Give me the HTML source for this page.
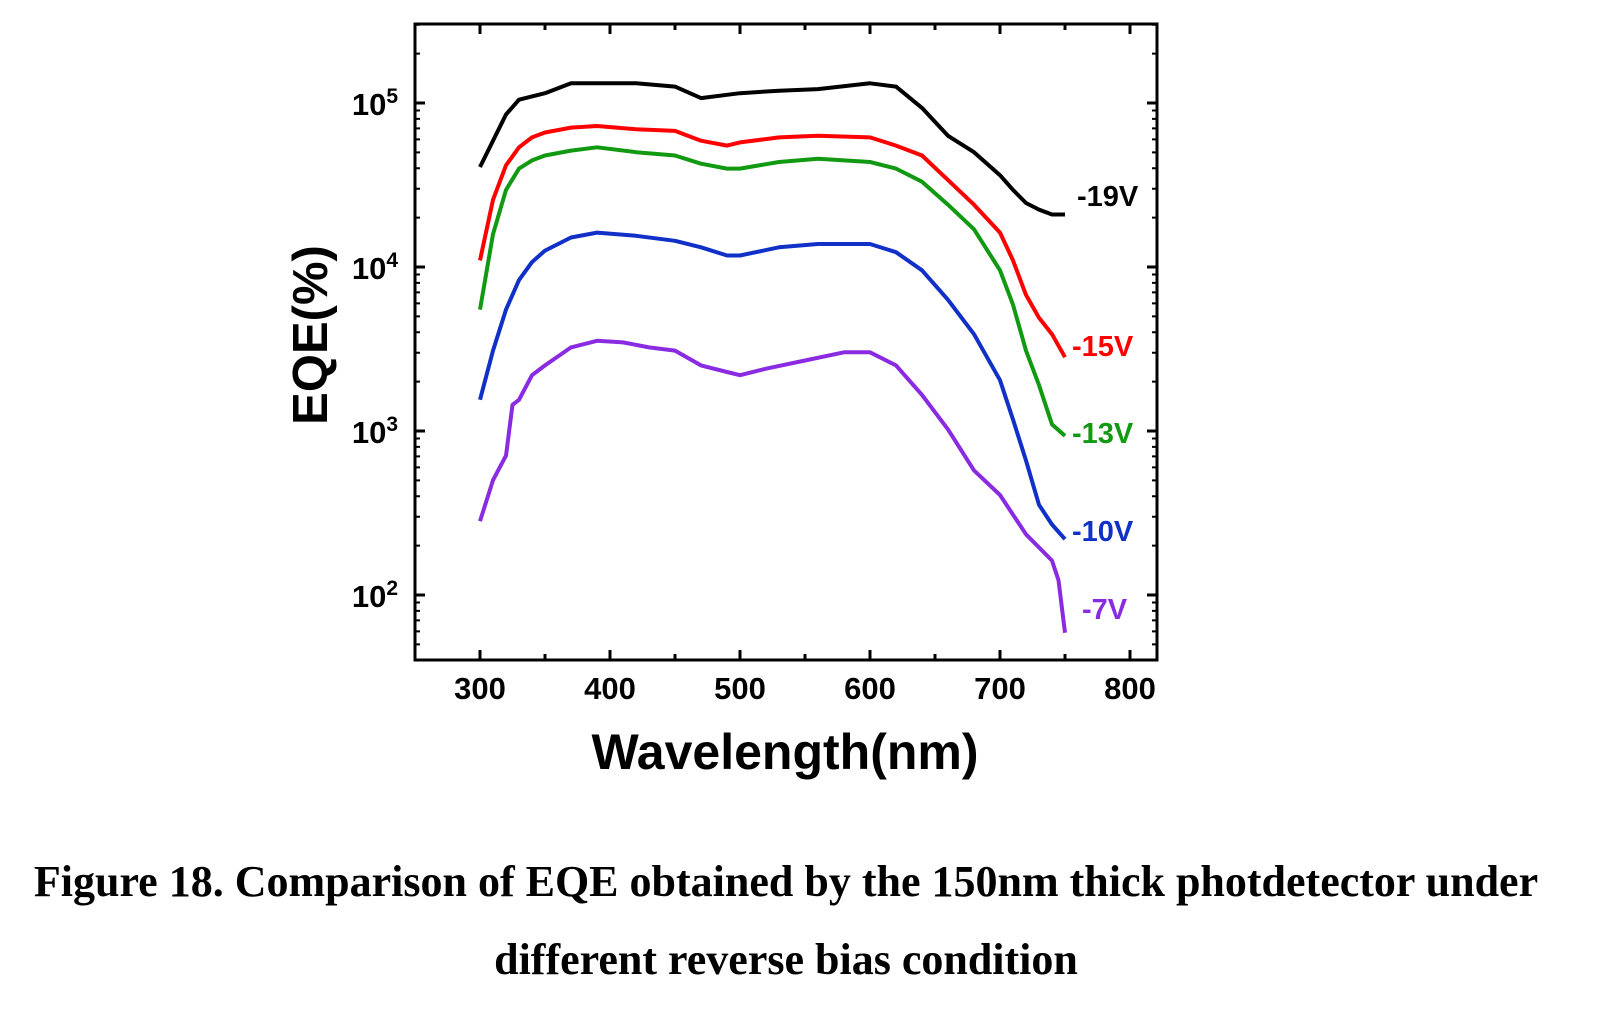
<!DOCTYPE html>
<html><head><meta charset="utf-8"><style>
html,body{margin:0;padding:0;background:#fff;}
body{width:1600px;height:1019px;position:relative;overflow:hidden;}
.cap{position:absolute;left:0;width:1572px;text-align:center;font-family:"Liberation Serif",serif;font-weight:bold;font-size:44px;line-height:44px;color:#000;white-space:nowrap;}
</style></head><body>
<svg id="chart" width="1600" height="840" style="position:absolute;left:0;top:0" font-family="Liberation Sans, sans-serif" font-weight="bold"></svg>
<div class="cap" style="top:860px">Figure 18. Comparison of EQE obtained by the 150nm thick photdetector under</div>
<div class="cap" style="top:938px">different reverse bias condition</div>
<script>
const wl = [300,310,320,330,340,350,370,390,420,450,470,490,500,530,560,600,620,640,660,680,700,710,720,730,740,750];
const v19 = [4.61,4.77,4.93,5.02,5.04,5.06,5.12,5.12,5.12,5.10,5.03,5.05,5.06,5.075,5.085,5.12,5.10,4.97,4.80,4.70,4.56,4.47,4.39,4.35,4.32,4.32];
const v15 = [4.04,4.41,4.62,4.73,4.79,4.82,4.85,4.86,4.84,4.83,4.77,4.74,4.76,4.79,4.80,4.79,4.74,4.68,4.53,4.38,4.21,4.04,3.83,3.69,3.59,3.45];
const v13 = [3.74,4.20,4.47,4.60,4.65,4.68,4.71,4.73,4.70,4.68,4.63,4.60,4.60,4.64,4.66,4.64,4.60,4.52,4.38,4.23,3.98,3.77,3.49,3.28,3.04,2.97];
const v10 = [3.19,3.49,3.74,3.92,4.03,4.10,4.18,4.21,4.19,4.16,4.12,4.07,4.07,4.12,4.14,4.14,4.09,3.98,3.80,3.59,3.31,3.07,2.82,2.55,2.43,2.34];
const v7wl = [300,310,320,325,330,340,350,370,390,410,430,450,470,490,500,520,550,580,600,620,640,660,680,700,720,740,745,750];
const v7 = [2.45,2.70,2.85,3.16,3.19,3.34,3.40,3.51,3.55,3.54,3.51,3.49,3.40,3.36,3.34,3.38,3.43,3.48,3.48,3.40,3.22,3.01,2.76,2.61,2.37,2.21,2.09,1.77];
const xTicks = [300,400,500,600,700,800];
const yDecades = [2,3,4,5];
const labels = ["-19V","-15V","-13V","-10V","-7V"];

const L=415,R=1157,T=24,B=660;
const X = w => 480 + (w-300)*1.3;
const Y = lg => 103 + (5-lg)*164;
const NS="http://www.w3.org/2000/svg";
const svg=document.getElementById('chart');
function mk(tag,attrs,parent){const e=document.createElementNS(NS,tag);for(const k in attrs)e.setAttribute(k,attrs[k]);(parent||svg).appendChild(e);return e;}

const frame=mk('rect',{x:L,y:T,width:R-L,height:B-T,fill:'none',stroke:'#000','stroke-width':3});



xTicks.forEach(t=>{
  const x=X(t);
  const tk=mk('path',{d:`M${x},${B}v-10M${x},${T}v10`,stroke:'#000','stroke-width':3});
  
  
  const lb=mk('text',{x:x,y:699,'text-anchor':'middle','font-size':31});
  lb.textContent=t;
  
  
});
[350,450,550,650,750].forEach(t=>{
  const x=X(t);
  const tk=mk('path',{d:`M${x},${B}v-6M${x},${T}v6`,stroke:'#000','stroke-width':3});
  
  
});
for(let d=1;d<=5;d++){
  for(let m=1;m<=9;m++){
    const lg=d+Math.log10(m);
    const y=Y(lg);
    if(y<T||y>B) continue;
    const len=m===1?10:5;
    const tk=mk('path',{d:`M${L},${y}h${len}M${R},${y}h${-len}`,stroke:'#000','stroke-width':m===1?3:2});
    
    
  }
}
yDecades.forEach(d=>{
  const y=Y(d);
  const lb=mk('text',{x:398,y:y+12,'text-anchor':'end','font-size':31});
  
  
  const t1=mk('tspan',{},lb);t1.textContent='10';
  const t2=mk('tspan',{dy:-12,'font-size':21},lb);t2.textContent=d;
});

const series=[[wl,v19,'#000000'],[wl,v15,'#ff0000'],[wl,v13,'#119911'],[wl,v10,'#1030c8'],[v7wl,v7,'#8a2be2']];
const names=['series-19v','series-15v','series-13v','series-10v','series-7v'];
series.forEach((s,i)=>{
  const d=s[0].map((w,j)=>(j?'L':'M')+X(w).toFixed(1)+','+Y(s[1][j]).toFixed(1)).join('');
  const p=mk('path',{d:d,fill:'none',stroke:s[2],'stroke-width':4,'stroke-linejoin':'round'});
  
  
});
const lpos=[[1077,206],[1072,356],[1072,443],[1072,541],[1082,619]];
labels.forEach((t,i)=>{
  const lb=mk('text',{x:lpos[i][0],y:lpos[i][1],'font-size':29,fill:series[i][2]});
  lb.textContent=t;
  
  
});
const xt=mk('text',{x:785,y:769,'text-anchor':'middle','font-size':50});
xt.textContent='Wavelength(nm)';


const yt=mk('text',{x:0,y:0,'text-anchor':'middle','font-size':49,transform:'translate(327,335) rotate(-90)'});
yt.textContent='EQE(%)';


</script>
</body></html>
